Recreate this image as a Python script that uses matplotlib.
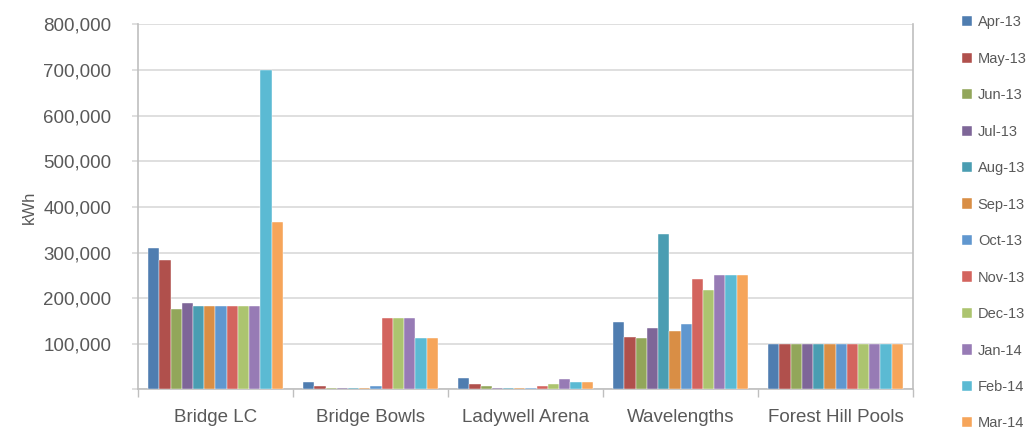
import numpy as np
import matplotlib
matplotlib.use("Agg")
import matplotlib.pyplot as plt
from matplotlib.ticker import FuncFormatter

plt.rcParams["font.family"] = ["Liberation Sans", "DejaVu Sans"]

# Datos (kWh)
sites = ["Bridge LC", "Bridge Bowls", "Ladywell Arena", "Wavelengths", "Forest Hill Pools"]
months = ["Apr-13", "May-13", "Jun-13", "Jul-13", "Aug-13", "Sep-13",
          "Oct-13", "Nov-13", "Dec-13", "Jan-14", "Feb-14", "Mar-14"]

bridge_lc = [310000, 283000, 176000, 189000, 184000, 184000, 184000, 184000, 184000, 184000, 700000, 368000]
bridge_bowls = [16000, 7000, 3500, 3500, 3500, 3500, 7000, 156000, 156000, 156000, 112000, 112000]
ladywell = [26000, 13000, 8000, 3500, 3500, 3500, 3500, 8000, 13000, 22000, 17000, 17000]
wavelengths = [147000, 116000, 112000, 134000, 341000, 129000, 143000, 242000, 219000, 251000, 251000, 251000]
forest_hill = [100000] * 12

colores = ["#4F7DB0", "#B0504C", "#92A65A", "#7E6698", "#4A9DB2", "#D98E45",
           "#6097CF", "#D3645E", "#ACC46F", "#977BB5", "#5BBAD3", "#F6A55A"]

valores = np.array([bridge_lc, bridge_bowls, ladywell, wavelengths, forest_hill])

fig = plt.figure(figsize=(10.32, 4.32), dpi=100)
ax = fig.add_axes([0.1337, 0.0984, 0.751, 0.8453])

x = np.arange(len(sites))
ancho = 0.87 / len(months)
for i, mes in enumerate(months):
    pos = x - 0.435 + ancho * (i + 0.5)
    ax.bar(pos, valores[:, i], width=ancho, color=colores[i], label=mes,
           edgecolor="white", linewidth=0.3, zorder=3)

ax.set_xlim(-0.5, len(sites) - 0.5)
ax.set_ylim(0, 800000)
ax.set_yticks(np.arange(0, 800001, 100000))
ax.yaxis.set_major_formatter(FuncFormatter(lambda v, p: "" if v == 0 else f"{int(v):,}"))
ax.grid(axis="y", color="#D9D9D9", linewidth=1.2, zorder=0)

ax.set_xticks(x)
ax.set_xticklabels(sites)
ax.set_xticks(np.arange(-0.5, len(sites)), minor=True)
ax.tick_params(axis="x", which="major", length=0, labelsize=13.5, labelcolor="#595959", pad=14)
ax.tick_params(axis="x", which="minor", length=6, color="#BFBFBF", width=1)
ax.tick_params(axis="y", length=4, color="#D9D9D9", width=1.2, labelsize=13.5,
               labelcolor="#595959", pad=15)

ax.spines["top"].set_visible(False)
for lado in ["left", "right", "bottom"]:
    ax.spines[lado].set_color("#BFBFBF")
    ax.spines[lado].set_linewidth(1.2)

ax.set_ylabel("kWh", fontsize=12, color="#595959", labelpad=5)

fig.legend(loc="upper left", bbox_to_anchor=(0.922, 0.988), frameon=False,
           fontsize=10.5, labelcolor="#595959", handlelength=0.7, handleheight=0.7,
           handletextpad=0.4, labelspacing=1.54, borderaxespad=0.3)

fig.savefig("out.png", dpi=100, facecolor="white")
